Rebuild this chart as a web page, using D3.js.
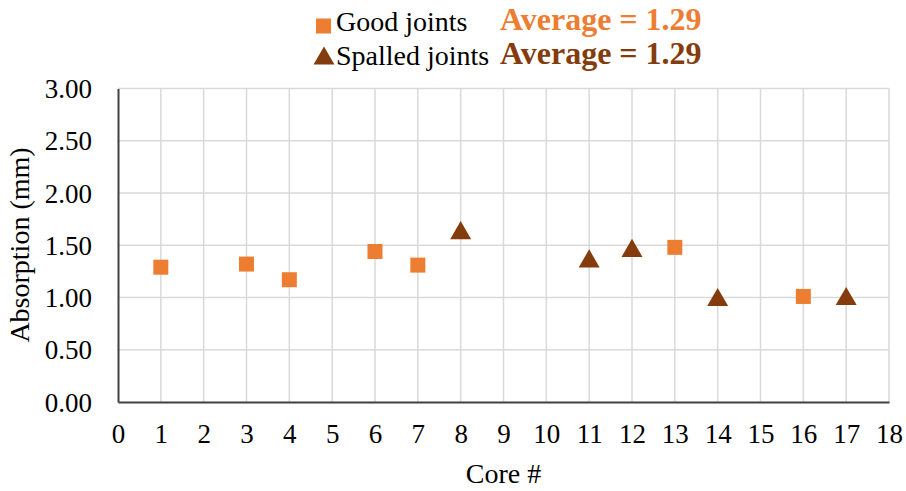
<!DOCTYPE html>
<html><head><meta charset="utf-8">
<script src="https://cdn.jsdelivr.net/npm/d3@7"></script>
<style>body{margin:0;background:#fff}svg{display:block}</style>
</head><body>
<svg id="c" width="906" height="491"></svg>
<script>
const goodCores = [1, 3, 4, 6, 7, 13, 16];
const goodValues = [1.29, 1.32, 1.17, 1.44, 1.31, 1.48, 1.01];
const spalledCores = [8, 11, 12, 14, 17];
const spalledValues = [1.63, 1.36, 1.46, 0.99, 1.00];
const xTicks = d3.range(0, 19);
const yTicks = [0, 0.5, 1, 1.5, 2, 2.5, 3];
const seriesNames = ["Good joints", "Spalled joints"];
const averageLabels = ["Average = 1.29", "Average = 1.29"];
const colors = ["#ED7D31", "#843C0C"];

const FF = '"Liberation Serif", serif';
const svg = d3.select("#c");
const m = {l:118, r:889, t:88.5, b:402};
const x = d3.scaleLinear().domain([0,18]).range([m.l, m.r]);
const y = d3.scaleLinear().domain([0,3]).range([m.b, m.t]);

// grid
svg.append("g").selectAll("line.v").data(xTicks.slice(1)).join("line")
  .attr("x1", d=>x(d)).attr("x2", d=>x(d)).attr("y1", m.t).attr("y2", m.b)
  .attr("stroke", "#D9D9D9").attr("stroke-width", 1.5);
svg.append("g").selectAll("line.h").data(yTicks.slice(1)).join("line")
  .attr("x1", m.l).attr("x2", m.r).attr("y1", d=>y(d)).attr("y2", d=>y(d))
  .attr("stroke", "#D9D9D9").attr("stroke-width", 1.5);

// axes
const xAxis = d3.axisBottom(x).tickValues(xTicks).tickSize(0).tickPadding(0).tickFormat(d3.format("d"));
const gx = svg.append("g").attr("transform", `translate(0,${m.b})`).call(xAxis);
gx.attr("font-family", null).attr("font-size", null);
gx.select(".domain").attr("stroke", "#404040").attr("stroke-width", 2);
gx.selectAll("text").attr("y", 41).attr("dy", 0).style("font-family", FF).style("font-size", "27px").attr("fill", "#000");

const yAxis = d3.axisLeft(y).tickValues(yTicks).tickSize(0).tickPadding(0).tickFormat(d3.format(".2f"));
const gy = svg.append("g").attr("transform", `translate(${m.l},0)`).call(yAxis);
gy.attr("font-family", null).attr("font-size", null);
gy.select(".domain").attr("stroke", "#404040").attr("stroke-width", 2);
gy.selectAll("text").attr("x", -26).attr("dy", "0.34em").style("font-family", FF).style("font-size", "27px").attr("fill", "#000");

// axis titles
svg.append("text").attr("x", (m.l+m.r)/2).attr("y", 483).attr("text-anchor", "middle")
  .style("font-family", FF).style("font-size", "28px").text("Core #");
svg.append("text").attr("transform", `translate(29,245) rotate(-90)`).attr("text-anchor", "middle")
  .style("font-family", FF).style("font-size", "28px").text("Absorption (mm)");

// points
const sq = d3.symbol().type(d3.symbolSquare).size(225);
const tri = d3.symbol().type(d3.symbolTriangle).size(190);
svg.append("g").selectAll("path").data(goodCores.map((c,i)=>[c, goodValues[i]])).join("path")
  .attr("d", sq).attr("transform", d=>`translate(${x(d[0])},${y(d[1])})`).attr("fill", colors[0]);
svg.append("g").selectAll("path").data(spalledCores.map((c,i)=>[c, spalledValues[i]])).join("path")
  .attr("d", tri).attr("transform", d=>`translate(${x(d[0])},${y(d[1])+1.5})`).attr("fill", colors[1]);

// legend
const lg = svg.append("g");
const rows = [26, 57];
lg.append("path").attr("d", sq).attr("transform", `translate(323.5,${rows[0]})`).attr("fill", colors[0]);
lg.append("path").attr("d", tri).attr("transform", `translate(324,${rows[1]+1.5})`).attr("fill", colors[1]);
seriesNames.forEach((n,i)=>{
  lg.append("text").attr("x", 336).attr("y", rows[i]+5 + (i?3:0))
    .style("font-family", FF).style("font-size", "28px").text(n);
  lg.append("text").attr("x", 500).attr("y", rows[i]+4 + (i?3:0))
    .style("font-family", FF).style("font-size", "32px").style("font-weight", "bold")
    .attr("fill", colors[i]).text(averageLabels[i]);
});
</script>
</body></html>
